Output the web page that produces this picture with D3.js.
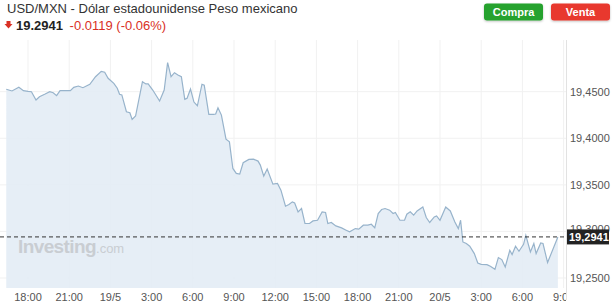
<!DOCTYPE html>
<html>
<head>
<meta charset="utf-8">
<script src="https://cdn.jsdelivr.net/npm/d3@7"></script>
<style>
  body { margin: 0; background: #fff; font-family: "Liberation Sans", Arial, sans-serif; }
  svg { display: block; }
</style>
</head>
<body>
<div id="grafico"></div>
<script>
// Datos USD/MXN (hora, precio)
const times = [
  "05-18 16:25","05-18 16:50","05-18 17:20","05-18 17:40","05-18 18:00","05-18 18:15","05-18 18:35","05-18 18:50",
  "05-18 19:15","05-18 19:35","05-18 19:50","05-18 20:05","05-18 20:20","05-18 21:05","05-18 21:20","05-18 21:40",
  "05-18 22:00","05-18 22:30","05-18 22:55","05-18 23:20","05-18 23:35","05-18 23:50","05-19 00:15","05-19 00:30",
  "05-19 00:40","05-19 00:50","05-19 01:10","05-19 01:25","05-19 01:35","05-19 01:50","05-19 02:20","05-19 02:35",
  "05-19 02:45","05-19 03:05","05-19 03:35","05-19 03:55","05-19 04:10","05-19 04:25","05-19 04:40","05-19 04:55",
  "05-19 05:10","05-19 05:25","05-19 05:35","05-19 05:50","05-19 06:05","05-19 06:20","05-19 06:40","05-19 06:50",
  "05-19 07:10","05-19 07:30","05-19 07:40","05-19 07:50","05-19 08:05","05-19 08:25","05-19 08:40","05-19 08:55",
  "05-19 09:10","05-19 09:25","05-19 09:40","05-19 10:05","05-19 10:25","05-19 10:45","05-19 10:55","05-19 11:10",
  "05-19 11:25","05-19 11:50","05-19 12:10","05-19 12:25","05-19 12:45","05-19 13:00","05-19 13:15","05-19 13:25",
  "05-19 13:40","05-19 13:55","05-19 14:10","05-19 14:30","05-19 14:45","05-19 15:05","05-19 15:25","05-19 15:40",
  "05-19 15:50","05-19 16:05","05-19 16:25","05-19 16:50","05-19 17:10","05-19 17:25","05-19 17:50","05-19 18:05",
  "05-19 18:25","05-19 18:45","05-19 19:00","05-19 19:15","05-19 19:30","05-19 19:45","05-19 20:00","05-19 20:20",
  "05-19 20:35","05-19 20:45","05-19 21:05","05-19 21:25","05-19 21:35","05-19 21:50","05-19 22:05","05-19 22:20",
  "05-19 22:45","05-19 23:00","05-19 23:15","05-19 23:35","05-19 23:45","05-20 00:00","05-20 00:25","05-20 00:45",
  "05-20 01:05","05-20 01:20","05-20 01:30","05-20 01:40","05-20 01:55","05-20 02:10","05-20 02:30","05-20 02:45",
  "05-20 03:00","05-20 03:25","05-20 03:40","05-20 04:00","05-20 04:15","05-20 04:30","05-20 04:45","05-20 05:05",
  "05-20 05:15","05-20 05:30","05-20 05:45","05-20 06:05","05-20 06:15","05-20 06:35","05-20 06:50","05-20 07:00",
  "05-20 07:20","05-20 07:30","05-20 07:50","05-20 08:35"
];
const prices = [
  19.4526,19.4508,19.4547,19.4511,19.4504,19.4500,19.4411,19.4446,
  19.4475,19.4500,19.4489,19.4457,19.4511,19.4511,19.4547,19.4561,
  19.4543,19.4580,19.4661,19.4719,19.4709,19.4644,19.4590,19.4537,
  19.4472,19.4465,19.4285,19.4274,19.4203,19.4239,19.4608,19.4583,
  19.4583,19.4518,19.4400,19.4518,19.4812,19.4661,19.4704,19.4680,
  19.4661,19.4418,19.4429,19.4529,19.4389,19.4349,19.4580,19.4569,
  19.4257,19.4257,19.4260,19.4328,19.4249,19.3991,19.3962,19.3676,
  19.3623,19.3615,19.3737,19.3773,19.3776,19.3755,19.3712,19.3594,
  19.3669,19.3507,19.3515,19.3443,19.3271,19.3289,19.3317,19.3306,
  19.3210,19.3246,19.3085,19.3085,19.3113,19.3120,19.3210,19.3203,
  19.3085,19.3096,19.3059,19.3038,19.3013,19.2995,19.3031,19.3024,
  19.3067,19.3067,19.3077,19.3038,19.3192,19.3235,19.3246,19.3228,
  19.3192,19.3203,19.3120,19.3120,19.3185,19.3210,19.3174,19.3220,
  19.3263,19.3149,19.3096,19.3156,19.3167,19.3120,19.3263,19.3220,
  19.3102,19.3031,19.3120,19.2887,19.2870,19.2841,19.2762,19.2661,
  19.2647,19.2644,19.2626,19.2593,19.2719,19.2698,19.2618,19.2798,
  19.2752,19.2841,19.2787,19.2862,19.2959,19.2780,19.2870,19.2762,
  19.2876,19.2870,19.2666,19.2941
];
const yTicks = [19.25, 19.30, 19.35, 19.40, 19.45];
const xTicks = [
  "05-18 18:00","05-18 21:00","05-19 00:00","05-19 03:00","05-19 06:00","05-19 09:00","05-19 12:00",
  "05-19 15:00","05-19 18:00","05-19 21:00","05-20 00:00","05-20 03:00","05-20 06:00","05-20 09:00"
];
const lastPrice = 19.2941;

const width = 614, height = 307;
const plotRight = 566, plotTop = 40, plotBottom = 288;

const parse = d3.timeParse("%m-%d %H:%M");
const data = times.map((t, i) => ({ t: parse(t), v: prices[i] }));
const fmtNum = d3.formatLocale({ decimal: ",", thousands: "." }).format(".4f");
const fmtTick = d => (d.getHours() === 0 ? d3.timeFormat("%-d/%-m")(d) : d3.timeFormat("%-H:%M")(d));

const svg = d3.select("#grafico").append("svg")
  .attr("width", width)
  .attr("height", height);

const x = d3.scaleTime()
  .domain([parse("05-18 18:00"), parse("05-20 09:00")])
  .range([28, 563.6]);
const y = d3.scaleLinear()
  .domain([19.25, 19.45])
  .range([278, 91.7]);

svg.append("clipPath").attr("id", "clip")
  .append("rect").attr("x", 0).attr("y", 0).attr("width", plotRight).attr("height", height);

// Rejilla
const grid = svg.append("g");
grid.selectAll(".gx").data(xTicks.map(parse)).enter().append("line")
  .attr("x1", d => x(d)).attr("x2", d => x(d))
  .attr("y1", plotTop).attr("y2", plotBottom)
  .attr("stroke", "#f1f1f1");
grid.selectAll(".gy").data(yTicks).enter().append("line")
  .attr("x1", 0).attr("x2", plotRight)
  .attr("y1", d => y(d)).attr("y2", d => y(d))
  .attr("stroke", "#f1f1f1");

// Área y línea
const area = d3.area().x(d => x(d.t)).y0(plotBottom).y1(d => y(d.v));
const line = d3.line().x(d => x(d.t)).y(d => y(d.v));

svg.append("path").datum(data)
  .attr("fill", "#e3ecf5")
  .attr("fill-opacity", 0.9)
  .attr("d", area);

// Marca de agua
const wm = svg.append("text")
  .attr("x", 18).attr("y", 253)
  .attr("fill", "#c9cdd2");
wm.append("tspan").text("Investing")
  .style("font-size", "19px").style("font-weight", "bold").style("letter-spacing", "-0.6px");
wm.append("tspan").text(".com").style("font-size", "13px");

svg.append("path").datum(data)
  .attr("fill", "none")
  .attr("stroke", "#97b3cb")
  .attr("stroke-width", 1.2)
  .attr("d", line);

// Línea del último precio
svg.append("line")
  .attr("x1", 0).attr("x2", plotRight)
  .attr("y1", y(lastPrice)).attr("y2", y(lastPrice))
  .attr("stroke", "#333")
  .attr("stroke-dasharray", "4,3");

// Eje derecho
svg.append("line")
  .attr("x1", plotRight + 0.5).attr("x2", plotRight + 0.5)
  .attr("y1", plotTop).attr("y2", 300)
  .attr("stroke", "#e2e2e2");

svg.selectAll(".ylab").data(yTicks.filter(d => Math.abs(y(d) - y(lastPrice)) > 12)).enter().append("text")
  .attr("x", 570).attr("y", d => y(d) + 4)
  .attr("fill", "#555")
  .style("font-size", "11px")
  .text(d => fmtNum(d));

// Etiqueta tapada parcialmente por el precio actual (como en el original)
svg.selectAll(".ylab2").data(yTicks.filter(d => Math.abs(y(d) - y(lastPrice)) <= 12)).enter().append("text")
  .attr("x", 570).attr("y", d => y(d) + 2)
  .attr("fill", "#555")
  .style("font-size", "11px")
  .text(d => fmtNum(d));

// Etiqueta del último precio
svg.append("rect")
  .attr("x", 567).attr("y", y(lastPrice) - 7.5)
  .attr("width", 42).attr("height", 15)
  .attr("fill", "#222");
svg.append("text")
  .attr("x", 569).attr("y", y(lastPrice) + 4)
  .attr("fill", "#fff")
  .style("font-size", "11px").style("font-weight", "bold")
  .text(fmtNum(lastPrice));

// Eje X
svg.append("g").attr("clip-path", "url(#clip)")
  .selectAll("text").data(xTicks.map(parse)).enter().append("text")
  .attr("x", d => x(d)).attr("y", 301)
  .attr("text-anchor", "middle")
  .attr("fill", "#555")
  .style("font-size", "11px")
  .text(fmtTick);

// Encabezado
svg.append("text")
  .attr("x", 7).attr("y", 13)
  .attr("fill", "#333")
  .style("font-size", "13px")
  .text("USD/MXN - Dólar estadounidense Peso mexicano");

svg.append("path")
  .attr("d", "M6.5,21 h4 v3 h2 l-4,4.5 l-4,-4.5 h2 z")
  .attr("fill", "#d93025");
const head = svg.append("text").attr("x", 16).attr("y", 30).style("font-size", "13px");
head.append("tspan").text("19.2941").attr("fill", "#222").style("font-weight", "bold");
head.append("tspan").text(" -0.0119 (-0.06%)").attr("fill", "#d93025").attr("dx", 3);

// Botones
const botones = [
  { label: "Compra", x: 484, color: "#27a22e" },
  { label: "Venta", x: 551, color: "#e8372d" }
];
const defs = svg.append("defs");
const f = defs.append("filter").attr("id", "sombra").attr("x", "-20%").attr("y", "-30%").attr("width", "140%").attr("height", "180%");
f.append("feDropShadow").attr("dx", 0).attr("dy", 1).attr("stdDeviation", 1.2).attr("flood-opacity", 0.25);

botones.forEach(b => {
  svg.append("rect")
    .attr("x", b.x).attr("y", 3.5)
    .attr("width", 59).attr("height", 17)
    .attr("rx", 3)
    .attr("fill", b.color)
    .attr("filter", "url(#sombra)");
  svg.append("text")
    .attr("x", b.x + 29.5).attr("y", 16)
    .attr("text-anchor", "middle")
    .attr("fill", "#fff")
    .style("font-size", "11px").style("font-weight", "bold")
    .text(b.label);
});
</script>
</body>
</html>
